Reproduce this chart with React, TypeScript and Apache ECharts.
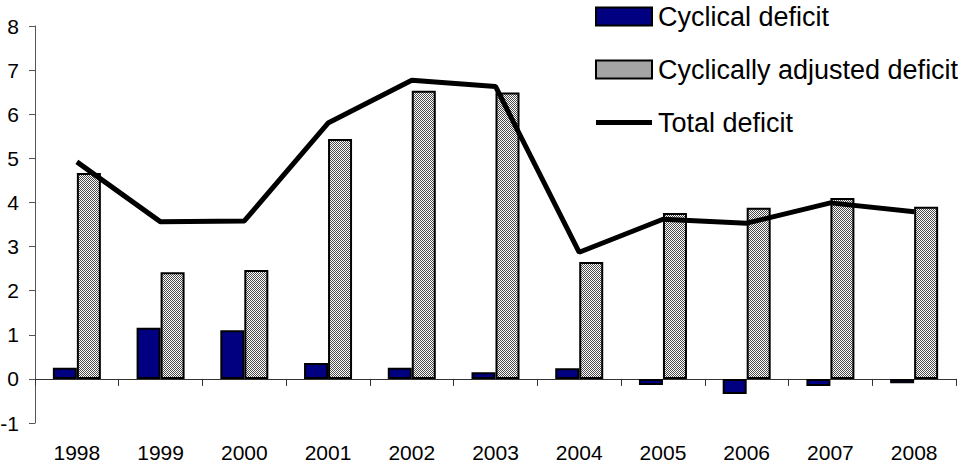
import React, { useEffect, useRef } from 'react';
import * as echarts from 'echarts';

const years = ['1998', '1999', '2000', '2001', '2002', '2003', '2004', '2005', '2006', '2007', '2008'];
const cyclical = [0.25, 1.16, 1.1, 0.36, 0.25, 0.15, 0.24, -0.14, -0.34, -0.16, -0.1];
const adjusted = [4.67, 2.42, 2.47, 5.44, 6.53, 6.49, 2.65, 3.76, 3.88, 4.1, 3.9];
const total = [4.92, 3.56, 3.58, 5.8, 6.77, 6.63, 2.87, 3.62, 3.53, 3.99, 3.79];
const yTicks = { min: -1, max: 8, interval: 1 };

const FONT = '"Liberation Sans", Arial, sans-serif';

function makeHatch(): HTMLCanvasElement {
  const c = document.createElement('canvas');
  c.width = 4;
  c.height = 4;
  const ctx = c.getContext('2d')!;
  ctx.fillStyle = '#ffffff';
  ctx.fillRect(0, 0, 4, 4);
  ctx.fillStyle = '#4a4a4a';
  for (let i = 0; i < 4; i++) {
    ctx.fillRect(i, i, 1, 1);
    ctx.fillRect((i + 2) % 4, i, 1, 1);
  }
  return c;
}

const LINE_ICON = 'path://M0,0 L0.05,0 L0.05,0.05 Z M0,6.5 L56,6.5 L56,11.5 L0,11.5 Z M0,18 L0.05,18 L0.05,17.95 Z';

export default function App() {
  const ref = useRef<HTMLDivElement>(null);
  useEffect(() => {
    if (!ref.current) return;
    const chart = echarts.init(ref.current, null, { renderer: 'svg' });
    const hatch = { image: makeHatch(), repeat: 'repeat', imageWidth: 4, imageHeight: 4 } as any;
    chart.setOption({
      animation: false,
      backgroundColor: '#ffffff',
      grid: { left: 35, right: 2, top: 26, bottom: 42, containLabel: false, outerBoundsMode: 'none' },
      legend: {
        orient: 'vertical',
        left: 595,
        top: 3,
        itemWidth: 56,
        itemHeight: 18,
        itemGap: 26,
        padding: 0,
        textStyle: { fontFamily: FONT, fontSize: 27, color: '#000', padding: [0, 0, 0, 1] },
        data: [
          { name: 'Cyclical deficit', icon: 'rect', itemStyle: { borderColor: '#000', borderWidth: 2 } },
          { name: 'Cyclically adjusted deficit', icon: 'rect', itemStyle: { borderColor: '#000', borderWidth: 2 } },
          { name: 'Total deficit', icon: LINE_ICON, itemStyle: { color: '#000', borderWidth: 0 } },
        ],
      },
      xAxis: {
        type: 'category',
        data: years,
        boundaryGap: true,
        axisLine: { onZero: true, lineStyle: { color: '#333', width: 1 } },
        axisTick: { show: true, length: 7, lineStyle: { color: '#333' } },
        axisLabel: { fontFamily: FONT, fontSize: 21, color: '#000', margin: 19 },
        splitLine: { show: false },
      },
      yAxis: {
        type: 'value',
        min: yTicks.min,
        max: yTicks.max,
        interval: yTicks.interval,
        axisLine: { show: true, onZero: false, lineStyle: { color: '#555', width: 1 } },
        axisTick: { show: true, length: 6, lineStyle: { color: '#555' } },
        axisLabel: { fontFamily: FONT, fontSize: 21, color: '#000', margin: 16 },
        splitLine: { show: false },
      },
      series: [
        {
          name: 'Cyclical deficit',
          type: 'bar',
          data: cyclical,
          barWidth: 24,
          barGap: '0%',
          itemStyle: { color: '#000080', borderColor: '#000', borderWidth: 2 },
        },
        {
          name: 'Cyclically adjusted deficit',
          type: 'bar',
          data: adjusted,
          barWidth: 24,
          barGap: '0%',
          itemStyle: { color: hatch, borderColor: '#000', borderWidth: 2 },
        },
        {
          name: 'Total deficit',
          type: 'line',
          data: total,
          symbol: 'none',
          showSymbol: false,
          z: 5,
          lineStyle: { color: '#000', width: 5 },
          itemStyle: { color: '#000' },
        },
      ],
    });
    return () => chart.dispose();
  }, []);
  return <div ref={ref} style={{ position: 'absolute', left: 0, top: 0, width: 958, height: 465 }} />;
}
